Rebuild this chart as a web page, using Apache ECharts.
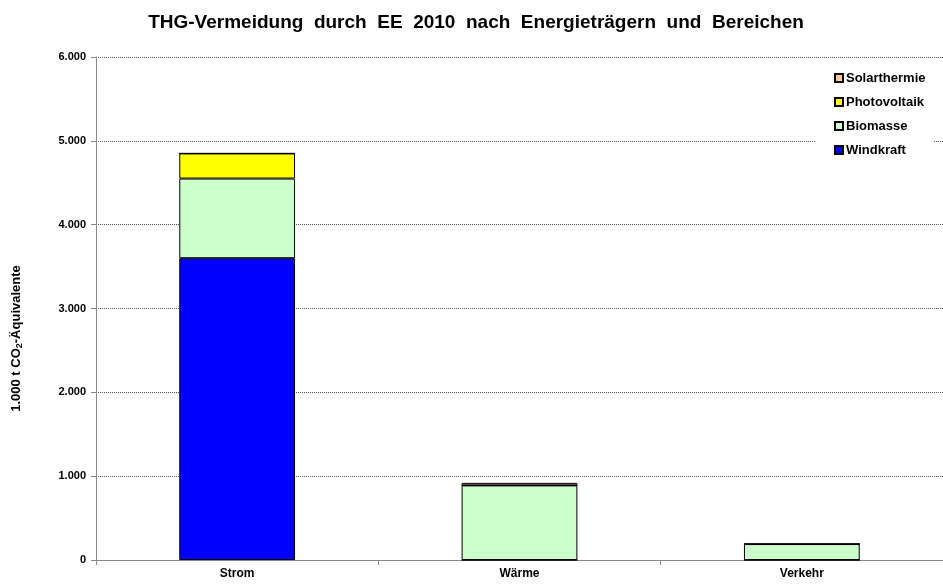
<!DOCTYPE html>
<html>
<head>
<meta charset="utf-8">
<script src="https://cdn.jsdelivr.net/npm/echarts@6/dist/echarts.min.js"></script>
<style>html,body{margin:0;padding:0;background:#fff}#c{width:943px;height:585px}</style>
</head>
<body>
<div id="c"></div>
<script>
var categories = ['Strom', 'Wärme', 'Verkehr'];
var windkraft = [3600, 0, 0];
var biomasse = [950, 890, 190];
var photovoltaik = [300, 0, 0];
var solarthermie = [0, 30, 0];
var yTicks = [0, 1000, 2000, 3000, 4000, 5000, 6000];

var chart = echarts.init(document.getElementById('c'), null, {renderer: 'canvas'});
var font = 'Liberation Sans, Arial, sans-serif';
function fmt(v){ return v === 0 ? '0' : (v/1000).toFixed(3); }
var barStyle = function(color){ return {color: color, borderColor: '#000', borderWidth: 1}; };
chart.setOption({
  animation: false,
  title: {
    text: 'THG-Vermeidung  durch  EE  2010  nach  Energieträgern  und  Bereichen',
    left: 471, top: 8, textAlign: 'center',
    textStyle: {fontFamily: font, fontSize: 19, fontWeight: 'bold', color: '#000'}
  },
  legend: {
    orient: 'vertical', left: 816, top: 63,
    itemWidth: 8, itemHeight: 8, itemGap: 10,
    backgroundColor: '#fff', padding: [8, 8, 8, 18],
    data: ['Solarthermie', 'Photovoltaik', 'Biomasse', 'Windkraft'],
    textStyle: {fontFamily: font, fontSize: 13, lineHeight: 14, fontWeight: 'bold', color: '#000', padding: [0, 0, 0, -2]},
    icon: 'rect'
  },
  grid: {left: 96, right: -4, top: 57, bottom: 25},
  xAxis: {
    type: 'category', data: categories,
    axisLine: {lineStyle: {color: '#888', width: 1}},
    axisTick: {show: true, lineStyle: {color: '#888'}},
    axisLabel: {fontFamily: font, fontSize: 12, fontWeight: 'bold', color: '#000', margin: 8}
  },
  yAxis: {
    type: 'value', min: 0, max: 6000, interval: 1000,
    name: '1.000 t CO{sub|2}-Äquivalente',
    nameLocation: 'middle', nameGap: 72, nameRotate: 90,
    nameTextStyle: {fontFamily: font, fontSize: 13, fontWeight: 'bold', color: '#000', padding: [0, 60, 0, 0],
      rich: {sub: {fontFamily: font, fontSize: 9, fontWeight: 'bold', color: '#000', verticalAlign: 'bottom', padding: [6, 0, 0, 0]}}},
    axisLine: {show: true, lineStyle: {color: '#888'}},
    axisTick: {show: true, inside: false, length: 5, lineStyle: {color: '#888'}},
    axisLabel: {fontFamily: font, fontSize: 11, fontWeight: 'bold', color: '#000', margin: 10,
      formatter: function(v){ return yTicks.indexOf(v) >= 0 ? fmt(v) : ''; }},
    splitLine: {show: true, lineStyle: {color: '#555', type: [1, 1], width: 1}}
  },
  series: [
    {name: 'Windkraft', type: 'bar', stack: 'a', data: windkraft, barWidth: '41%', itemStyle: barStyle('#0000FF')},
    {name: 'Biomasse', type: 'bar', stack: 'a', data: biomasse, itemStyle: barStyle('#CCFFCC')},
    {name: 'Photovoltaik', type: 'bar', stack: 'a', data: photovoltaik, itemStyle: barStyle('#FFFF00')},
    {name: 'Solarthermie', type: 'bar', stack: 'a', data: solarthermie, itemStyle: barStyle('#FFCC99')}
  ]
});
</script>
</body>
</html>
